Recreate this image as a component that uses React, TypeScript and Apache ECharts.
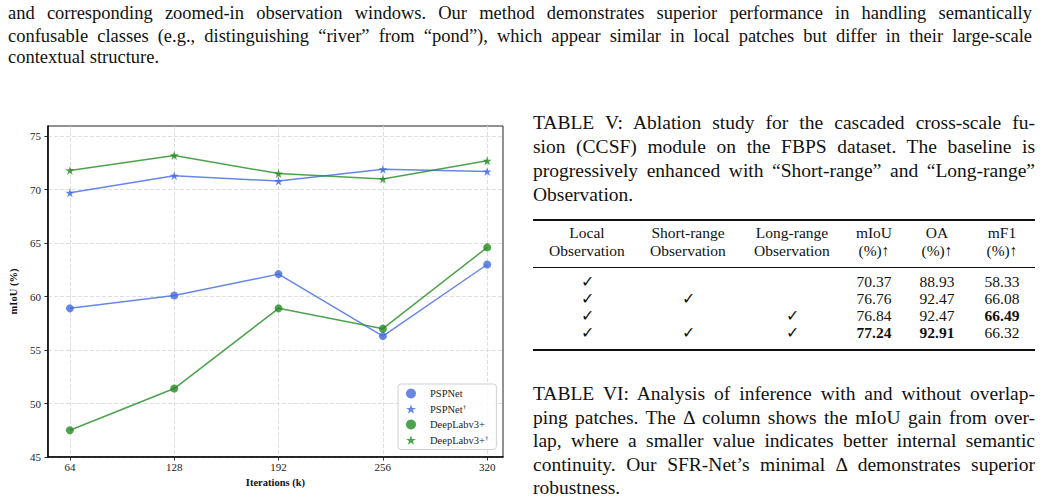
import React, { useEffect, useRef } from "react";
import * as echarts from "echarts";

// ---------- chart data ----------
const iterations = [64, 128, 192, 256, 320];
const yTicks = [45, 50, 55, 60, 65, 70, 75];
const pspnet = [58.9, 60.1, 62.1, 56.3, 63.0];
const pspnetDagger = [69.7, 71.3, 70.8, 71.9, 71.7];
const deeplab = [47.5, 51.4, 58.9, 57.0, 64.6];
const deeplabDagger = [71.8, 73.2, 71.5, 71.0, 72.7];
const seriesNames = ["PSPNet", "PSPNet†", "DeepLabv3+", "DeepLabv3+†"];

// ---------- page text ----------
const bodyLines = [
  "and corresponding zoomed-in observation windows. Our method demonstrates superior performance in handling semantically",
  "confusable classes (e.g., distinguishing “river” from “pond”), which appear similar in local patches but differ in their large-scale",
  "contextual structure.",
];
const table5Caption = [
  "TABLE V: Ablation study for the cascaded cross-scale fu-",
  "sion (CCSF) module on the FBPS dataset. The baseline is",
  "progressively enhanced with “Short-range” and “Long-range”",
  "Observation.",
];
const table6Caption = [
  "TABLE VI: Analysis of inference with and without overlap-",
  "ping patches. The Δ column shows the mIoU gain from over-",
  "lap, where a smaller value indicates better internal semantic",
  "continuity. Our SFR-Net’s minimal Δ demonstrates superior",
  "robustness.",
];
const tableHeader = [
  ["Local", "Observation"],
  ["Short-range", "Observation"],
  ["Long-range", "Observation"],
  ["mIoU", "(%)↑"],
  ["OA", "(%)↑"],
  ["mF1", "(%)↑"],
];
const localObs = [true, true, true, true];
const shortObs = [false, true, false, true];
const longObs = [false, false, true, true];
const miouVals = ["70.37", "76.76", "76.84", "77.24"];
const oaVals = ["88.93", "92.47", "92.47", "92.91"];
const mf1Vals = ["58.33", "66.08", "66.49", "66.32"];

const SERIF = "'Liberation Serif', 'Times New Roman', Times, serif";
const CHART_FONT = "Liberation Serif";
const BLUE = "rgba(65,105,225,0.8)";
const GREEN = "rgba(34,139,34,0.8)";
const STAR =
  "path://M50,0L61.23,34.55L97.55,34.55L68.17,55.9L79.39,90.45L50,69.1L20.61,90.45L31.83,55.9L2.45,34.55L38.77,34.55Z";

function Chart() {
  const ref = useRef<HTMLDivElement>(null);
  useEffect(() => {
    const chart = echarts.init(ref.current!, null, { renderer: "svg" });
    const mk = (name: string, vals: number[], color: string, symbol: string, size: number) => ({
      name,
      type: "line",
      data: iterations.map((x, i) => [x, vals[i]]),
      symbol,
      symbolSize: size,
      showSymbol: true,
      lineStyle: { color, width: 1.5 },
      itemStyle: { color, opacity: 1 },
      emphasis: { disabled: true },
      z: 3,
    });
    chart.setOption({
      animation: false,
      backgroundColor: "#fff",
      textStyle: { fontFamily: CHART_FONT },
      grid: {
        left: 43,
        top: 26,
        width: 460,
        height: 331,
        show: true,
        borderColor: "#222",
        borderWidth: 1,
        containLabel: false,
      },
      xAxis: {
        type: "value",
        min: 50.5,
        max: 329.7,
        axisLine: { show: true, onZero: false, lineStyle: { color: "#000", width: 1.5 } },
        axisTick: { show: true, inside: false, length: 3.5, customValues: iterations, lineStyle: { color: "#000", width: 0.8 } },
        axisLabel: { customValues: iterations, margin: 4.5, fontFamily: CHART_FONT, fontSize: 11, color: "#222" },
        splitLine: { show: true, lineStyle: { color: "#d5d5d5", type: [4, 2], width: 0.8 } },
        name: "Iterations (k)",
        nameLocation: "middle",
        nameGap: 19,
        nameTextStyle: { fontWeight: "bold", fontFamily: CHART_FONT, fontSize: 10.5, color: "#111" },
      },
      yAxis: {
        type: "value",
        min: 45,
        max: 75.95,
        axisLine: { show: true, onZero: false, lineStyle: { color: "#000", width: 1.5 } },
        axisTick: { show: true, inside: false, length: 3.5, customValues: yTicks, lineStyle: { color: "#000", width: 0.8 } },
        axisLabel: { customValues: yTicks, margin: 7, fontFamily: CHART_FONT, fontSize: 11, color: "#222" },
        splitLine: { show: true, lineStyle: { color: "#d5d5d5", type: [4, 2], width: 0.8 } },
        name: "mIoU (%)",
        nameLocation: "middle",
        nameGap: 17,
        nameTextStyle: { fontWeight: "bold", fontFamily: CHART_FONT, fontSize: 10.5, color: "#111" },
      },
      legend: {
        orient: "vertical",
        left: 398,
        top: 284,
        padding: [4, 8, 4, 8],
        itemGap: 4.5,
        itemWidth: 10,
        itemHeight: 10,
        backgroundColor: "rgba(255,255,255,0.85)",
        borderColor: "#d0d0d0",
        borderWidth: 1,
        borderRadius: 3,
        data: [
          { name: seriesNames[0], icon: "circle" },
          { name: seriesNames[1], icon: STAR },
          { name: seriesNames[2], icon: "circle" },
          { name: seriesNames[3], icon: STAR },
        ],
        formatter: (n: string) => (n.endsWith("†") ? `${n.slice(0, -1)}{s|†}` : n),
        textStyle: {
          fontFamily: CHART_FONT,
          fontSize: 10.5,
          color: "#222",
          padding: [0, 0, 0, 9],
          rich: { s: { fontFamily: CHART_FONT, fontSize: 7, verticalAlign: "top", color: "#222" } },
        },
      },
      series: [
        mk(seriesNames[0], pspnet, BLUE, "circle", 8),
        mk(seriesNames[1], pspnetDagger, BLUE, STAR, 9),
        mk(seriesNames[2], deeplab, GREEN, "circle", 8),
        mk(seriesNames[3], deeplabDagger, GREEN, STAR, 9),
      ],
    });
    return () => chart.dispose();
  }, []);
  return <div ref={ref} style={{ position: "absolute", left: 0, top: 100, width: 520, height: 401 }} />;
}

function Line(props: { text: string; left: number; top: number; width: number; size: number; lh: number; justify: boolean }) {
  const { text, left, top, width, size, lh, justify } = props;
  return (
    <div
      style={{
        position: "absolute",
        left,
        top,
        width,
        fontFamily: SERIF,
        fontSize: size,
        lineHeight: `${lh}px`,
        whiteSpace: "nowrap",
        textAlign: justify ? "justify" : "left",
        textAlignLast: justify ? "justify" : "left",
        color: "#111",
      }}
    >
      {text}
    </div>
  );
}

function Cell(props: { cx: number; cy: number; children: React.ReactNode; bold?: boolean; size?: number }) {
  const { cx, cy, children, bold, size } = props;
  return (
    <div
      style={{
        position: "absolute",
        left: cx - 60,
        top: cy - 9,
        width: 120,
        height: 18,
        lineHeight: "18px",
        textAlign: "center",
        fontFamily: SERIF,
        fontSize: size ?? 15.5,
        fontWeight: bold ? "bold" : "normal",
        color: "#111",
        whiteSpace: "nowrap",
      }}
    >
      {children}
    </div>
  );
}

function Rule(props: { top: number; h: number }) {
  return <div style={{ position: "absolute", left: 533, width: 502, top: props.top - props.h / 2, height: props.h, background: "#111" }} />;
}

export default function App() {
  const bodyTops = [2.1, 24.5, 46.1];
  const cap5Tops = [110.8, 134.8, 158.8, 182.8];
  const cap6Tops = [382, 405.5, 429, 452.5, 476];
  const colX = [587, 688, 792, 874, 937, 1002];
  const headerY = [233, 251];
  const rowY = [282, 299, 316, 333];
  const maxOf = (arr: string[]) => Math.max(...arr.map(Number));
  const bestMiou = maxOf(miouVals);
  const bestOa = maxOf(oaVals);
  const bestMf1 = maxOf(mf1Vals);
  return (
    <div style={{ position: "absolute", left: 0, top: 0, width: 1042, height: 501, background: "#fff", overflow: "hidden" }}>
      {bodyLines.map((t, i) => (
        <Line key={"b" + i} text={t} left={8} top={bodyTops[i]} width={1024} size={18.5} lh={22} justify={i < bodyLines.length - 1} />
      ))}
      {table5Caption.map((t, i) => (
        <Line key={"c5" + i} text={t} left={533} top={cap5Tops[i]} width={502} size={19.5} lh={24} justify={i < table5Caption.length - 1} />
      ))}
      {table6Caption.map((t, i) => (
        <Line key={"c6" + i} text={t} left={533} top={cap6Tops[i]} width={502} size={19.5} lh={24} justify={i < table6Caption.length - 1} />
      ))}
      <Rule top={220} h={1.4} />
      <Rule top={267.5} h={0.8} />
      <Rule top={350} h={1.4} />
      {tableHeader.map((h, c) =>
        h.map((t, r) => (
          <Cell key={`h${c}${r}`} cx={colX[c]} cy={headerY[r]}>
            {t}
          </Cell>
        ))
      )}
      {rowY.map((y, r) => (
        <React.Fragment key={"r" + r}>
          <Cell cx={colX[0]} cy={y}>{localObs[r] ? "✓" : ""}</Cell>
          <Cell cx={colX[1]} cy={y}>{shortObs[r] ? "✓" : ""}</Cell>
          <Cell cx={colX[2]} cy={y}>{longObs[r] ? "✓" : ""}</Cell>
          <Cell cx={colX[3]} cy={y} bold={Number(miouVals[r]) === bestMiou}>{miouVals[r]}</Cell>
          <Cell cx={colX[4]} cy={y} bold={Number(oaVals[r]) === bestOa}>{oaVals[r]}</Cell>
          <Cell cx={colX[5]} cy={y} bold={Number(mf1Vals[r]) === bestMf1}>{mf1Vals[r]}</Cell>
        </React.Fragment>
      ))}
      <Chart />
    </div>
  );
}
